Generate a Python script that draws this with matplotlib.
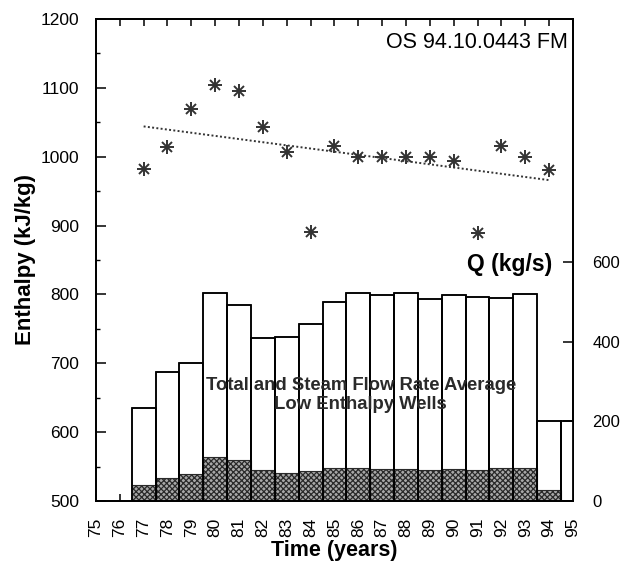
import numpy as np
import matplotlib
matplotlib.use('Agg')
import matplotlib.pyplot as plt
from matplotlib.ticker import MultipleLocator

plt.rcParams['font.family'] = ['Liberation Sans', 'DejaVu Sans']
plt.rcParams['hatch.linewidth'] = 0.9

# enthalpy of low enthalpy wells (kJ/kg)
years = [77, 78, 79, 80, 81, 82, 83, 84, 85, 86, 87, 88, 89, 90, 91, 92, 93, 94]
enthalpy = [982, 1014, 1070, 1104, 1096, 1043, 1007, 890, 1015, 999,
            1000, 999, 1000, 994, 889, 1015, 1000, 981]
# dotted trend line end points
trend_x = [77, 94]
trend_y = [1044, 966]

# flow rates (kg/s)
bar_years = [77, 78, 79, 80, 81, 82, 83, 84, 85, 86, 87, 88, 89, 90, 91, 92, 93, 94, 95]
total_flow = [234, 325, 348, 522, 493, 411, 413, 445, 501, 524,
              518, 524, 507, 518, 514, 510, 521, 200, 200]
steam_flow = [39, 57, 67, 110, 103, 77, 70, 75, 82, 83,
              81, 81, 79, 81, 79, 83, 82, 28, 0]

fig = plt.figure(figsize=(6.23, 5.67), dpi=100)
ax = fig.add_axes([0.154, 0.1164, 0.7657, 0.8501])
ax2 = ax.twinx()

# bars on right axis
ax2.bar(bar_years, total_flow, width=1.0, color='white', edgecolor='black', linewidth=1.1, zorder=1)
ax2.bar(bar_years, steam_flow, width=1.0, color='#a8a8a8', edgecolor='#2a2a2a',
        hatch='xxxxxx', linewidth=0.8, zorder=2)
ax2.bar(bar_years, total_flow, width=1.0, fill=False, edgecolor='black', linewidth=1.1, zorder=3)
ax2.set_ylim(0, 1212)
ax2.set_yticks([0, 200, 400, 600])
ax2.tick_params(axis='y', direction='in', length=7, width=1.1, labelsize=12, pad=14)

ax2.text(92.36, 594, 'Q (kg/s)', fontsize=16.5, fontweight='bold', ha='center', va='center')
ax2.text(86.1, 267, 'Total and Steam Flow Rate Average\nLow Enthalpy Wells',
         fontsize=13.3, fontweight='bold', ha='center', va='center', color='#2a2a2a',
         linespacing=1.15, zorder=5)

# enthalpy points
ax.plot(years, enthalpy, linestyle='none', marker='+', markersize=10, mew=1.4, color='#333333', zorder=4)
ax.plot(years, enthalpy, linestyle='none', marker='x', markersize=7.5, mew=1.4, color='#333333', zorder=4)
ax.plot(trend_x, trend_y, linestyle=(0, (1, 1.2)), color='#333333', linewidth=1.4)

ax.set_xlim(75, 95)
ax.set_ylim(500, 1200)
ax.set_xticks(range(75, 96))
ax.yaxis.set_minor_locator(MultipleLocator(50))
ax.tick_params(axis='x', direction='in', top=True, bottom=True, length=5, width=1.1,
               labelsize=12.5, labelrotation=90, pad=12)
ax.tick_params(axis='y', which='major', direction='in', length=7, width=1.1, labelsize=12.5, pad=12)
ax.tick_params(axis='y', which='minor', direction='in', length=3, width=1.0)
for a in (ax, ax2):
    for s in a.spines.values():
        s.set_linewidth(1.3)

ax.text(94.8, 1166, 'OS 94.10.0443 FM', fontsize=15.5, ha='right', va='center', zorder=6)

ax.set_xlabel('Time (years)', fontsize=15.5, fontweight='bold', labelpad=2)
ax.set_ylabel('Enthalpy (kJ/kg)', fontsize=16, fontweight='bold', labelpad=3)

fig.savefig('out.png', dpi=100)
